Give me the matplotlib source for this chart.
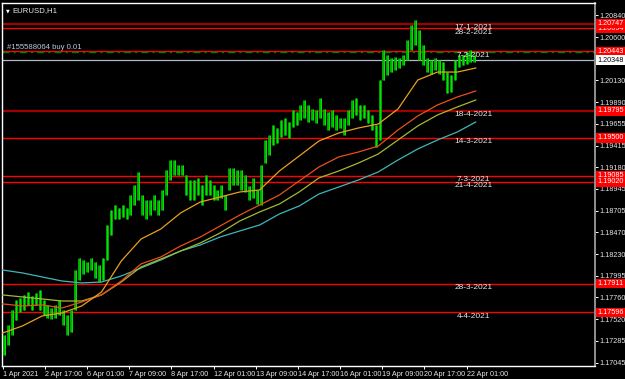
"""
plot.py
- EURUSD H1 chart, MT4 look: green bars, 4 moving averages, level lines
- saves out.png (625x379)
"""

import matplotlib
matplotlib.use("Agg")
import matplotlib.pyplot as plt
import numpy as np

# =========================
# 1. data
# =========================

# one bar per 3 hours, high / low
highs = [1.1735, 1.1746, 1.1762, 1.1773, 1.1775, 1.1779, 1.1782, 1.1777, 1.1781, 1.1784,
         1.1773, 1.1768, 1.1765, 1.1768, 1.1773, 1.1762, 1.1757, 1.1762, 1.1806, 1.1819,
         1.1817, 1.1815, 1.1819, 1.1815, 1.1811, 1.1819, 1.1855, 1.1871, 1.1877, 1.1873,
         1.1877, 1.1873, 1.1888, 1.1899, 1.1913, 1.1888, 1.1882, 1.1882, 1.1888, 1.1882,
         1.1893, 1.1915, 1.1926, 1.1926, 1.1920, 1.1920, 1.1910, 1.1904, 1.1904, 1.1906,
         1.1899, 1.1910, 1.1904, 1.1899, 1.1893, 1.1899, 1.1888, 1.1917, 1.1917, 1.1915,
         1.1915, 1.1910, 1.1897, 1.1906, 1.1893, 1.1920, 1.1948, 1.1953, 1.1964, 1.1961,
         1.1970, 1.1972, 1.1967, 1.1980, 1.1978, 1.1986, 1.1991, 1.1986, 1.1982, 1.1980,
         1.1993, 1.1982, 1.1978, 1.1980, 1.1975, 1.1972, 1.1972, 1.1980, 1.1991, 1.1993,
         1.1986, 1.1986, 1.1980, 1.1975, 1.1964, 1.2013, 1.2046, 1.2040, 1.2037, 1.2038,
         1.2037, 1.2040, 1.2057, 1.2073, 1.2079, 1.2068, 1.2051, 1.2037, 1.2035, 1.2037,
         1.2035, 1.2033, 1.2022, 1.2019, 1.2035, 1.2040, 1.2040, 1.2044, 1.2046, 1.2040]

lows = [1.1713, 1.1724, 1.1735, 1.1751, 1.1760, 1.1762, 1.1768, 1.1762, 1.1768, 1.1762,
        1.1757, 1.1754, 1.1752, 1.1754, 1.1757, 1.1746, 1.1735, 1.1738, 1.1762, 1.1795,
        1.1801, 1.1804, 1.1806, 1.1797, 1.1793, 1.1795, 1.1817, 1.1844, 1.1861, 1.1862,
        1.1864, 1.1861, 1.1866, 1.1877, 1.1882, 1.1866, 1.1861, 1.1866, 1.1871, 1.1866,
        1.1871, 1.1888, 1.1904, 1.1910, 1.1910, 1.1910, 1.1888, 1.1882, 1.1882, 1.1888,
        1.1877, 1.1888, 1.1888, 1.1882, 1.1882, 1.1884, 1.1871, 1.1893, 1.1899, 1.1899,
        1.1893, 1.1891, 1.1882, 1.1884, 1.1878, 1.1877, 1.1923, 1.1931, 1.1942, 1.1944,
        1.1951, 1.1953, 1.1950, 1.1962, 1.1964, 1.1970, 1.1972, 1.1967, 1.1970, 1.1966,
        1.1972, 1.1964, 1.1959, 1.1962, 1.1959, 1.1961, 1.1953, 1.1964, 1.1972, 1.1975,
        1.1970, 1.1972, 1.1966, 1.1959, 1.1940, 1.1948, 1.2013, 1.2019, 1.2022, 1.2024,
        1.2026, 1.2029, 1.2035, 1.2046, 1.2051, 1.2035, 1.2029, 1.2022, 1.2020, 1.2024,
        1.2020, 1.2013, 1.1999, 1.2000, 1.2013, 1.2027, 1.2029, 1.2031, 1.2033, 1.2033]

# moving averages, sampled at these H1 bar numbers
ma_bars = [0, 15, 30, 45, 60, 75, 90, 105, 120, 135, 150, 165, 180,
           195, 210, 225, 240, 255, 270, 285, 300, 315, 330, 345, 359]
ma_orange = [1.17372, 1.17449, 1.17558, 1.17590, 1.17667, 1.17819, 1.18157, 1.18397, 1.18506,
             1.18681, 1.18801, 1.18855, 1.18910, 1.18932, 1.19139, 1.19302, 1.19466, 1.19553,
             1.19608, 1.19651, 1.19815, 1.20131, 1.20218, 1.20218, 1.20262]
ma_red = [1.17689, 1.17667, 1.17678, 1.17645, 1.17710, 1.17787, 1.17939, 1.18125, 1.18201,
          1.18321, 1.18419, 1.18539, 1.18659, 1.18768, 1.18877, 1.19030, 1.19182, 1.19292,
          1.19346, 1.19411, 1.19586, 1.19739, 1.19859, 1.19946, 1.20011]
ma_yellow = [1.17787, 1.17765, 1.17743, 1.17721, 1.17721, 1.17787, 1.17928, 1.18092, 1.18179,
             1.18266, 1.18354, 1.18463, 1.18594, 1.18692, 1.18779, 1.18910, 1.19063, 1.19139,
             1.19226, 1.19324, 1.19477, 1.19630, 1.19750, 1.19837, 1.19913]
ma_cyan = [1.18059, 1.18027, 1.17983, 1.17939, 1.17918, 1.17928, 1.17994, 1.18081, 1.18168,
           1.18266, 1.18332, 1.18419, 1.18485, 1.18550, 1.18670, 1.18757, 1.18888, 1.18964,
           1.19041, 1.19128, 1.19259, 1.19379, 1.19477, 1.19564, 1.19673]

# horizontal levels
level_names = ["17-1-2021", "28-2-2021", "7-2-2021", "18-4-2021", "14-3-2021",
               "7-3-2021", "21-4-2021", "28-3-2021", "4-4-2021"]
level_prices = [1.20747, 1.20694, 1.20443, 1.19795, 1.19500,
                1.19085, 1.19020, 1.17911, 1.17596]
level_dark = [True, False, False, True, False, False, False, False, False]

bid_price = 1.20348
order_price = 1.20435
order_text = "#155588064 buy 0.01"

y_ticks = [1.20840, 1.20600, 1.20365, 1.20130, 1.19890, 1.19655, 1.19415, 1.19180,
           1.18945, 1.18705, 1.18470, 1.18230, 1.17995, 1.17760, 1.17520, 1.17285, 1.17045]
x_tick_bars = [0, 32, 64, 96, 128, 160, 192, 224, 256, 288, 320, 352]
x_tick_labels = ["1 Apr 2021", "2 Apr 17:00", "6 Apr 01:00", "7 Apr 09:00", "8 Apr 17:00",
                 "12 Apr 01:00", "13 Apr 09:00", "14 Apr 17:00", "16 Apr 01:00",
                 "19 Apr 09:00", "20 Apr 17:00", "22 Apr 01:00"]

# =========================
# 2. figure
# =========================

plt.rcParams["font.family"] = ["Liberation Sans Narrow", "Liberation Sans", "DejaVu Sans"]
FS = 5.2
TXT = "#e6e6e6"

fig = plt.figure(figsize=(6.25, 3.79), dpi=100, facecolor="black")
ax = fig.add_axes([2 / 625, 13 / 379, 593 / 625, 363 / 379], facecolor="black")

ax.set_xlim(-0.5, 449.5)
ax.set_ylim(1.17012, 1.20971)

# bars
bar_x = np.arange(len(highs)) * 3 + 1
ax.vlines(bar_x, lows, highs, color="#00b400", linewidth=2.0, zorder=3)
ax.vlines(bar_x + 0.5, lows, highs, color="#00f000", linewidth=0.6, zorder=3)

# moving averages
ax.plot(ma_bars, ma_cyan, color="#3fb7b7", linewidth=0.9, zorder=4)
ax.plot(ma_bars, ma_yellow, color="#a8b830", linewidth=0.9, zorder=4)
ax.plot(ma_bars, ma_red, color="#e8501a", linewidth=0.9, zorder=4)
ax.plot(ma_bars, ma_orange, color="#e8a020", linewidth=0.9, zorder=4)

# levels + labels
ytrans = ax.get_yaxis_transform()
for name, price, dark in zip(level_names, level_prices, level_dark):
    if dark:
        ax.axhline(price, color="#a00000", linewidth=1.6, zorder=2)
    else:
        ax.axhline(price, color="#ff0000", linewidth=1.0, zorder=2)
    ax.text(357.5, price - 0.00006, name, ha="center", va="top", fontsize=FS + 0.8,
            color=TXT, zorder=6)

# order line and bid line
ax.axhline(order_price, color="#008000", linewidth=1.0, linestyle=(0, (5, 3, 1.5, 3)), zorder=2)
ax.text(3, order_price + 0.0001, order_text, fontsize=FS + 0.4, color="#b8c8dc",
        va="bottom", zorder=6)
ax.axhline(bid_price, color="#b0b8c0", linewidth=0.9, zorder=2)

# title
ax.text(0.006, 0.985, "\u25bc", transform=ax.transAxes, fontsize=3.5, color="white",
        va="top", family="DejaVu Sans")
ax.text(0.018, 0.988, "EURUSD,H1", transform=ax.transAxes, fontsize=FS + 0.4, color=TXT,
        va="top")

# =========================
# 3. axes styling
# =========================

for side in ["top", "left", "bottom"]:
    ax.spines[side].set_color("white")
    ax.spines[side].set_linewidth(1.0)
ax.spines["right"].set_color("#909090")
ax.spines["right"].set_linewidth(1.4)

ax.yaxis.tick_right()
ax.set_yticks(y_ticks)
ax.set_yticklabels([f"{v:.5f}" for v in y_ticks])
ax.tick_params(axis="y", colors="white", labelsize=FS, length=2.0, width=0.7, pad=1.0,
               labelcolor=TXT)

ax.set_xticks(x_tick_bars)
ax.set_xticklabels(x_tick_labels, ha="left")
ax.tick_params(axis="x", colors="white", labelsize=FS, length=2.5, width=0.7, pad=1,
               labelcolor=TXT)

# price boxes on the right axis (drawn over tick labels)
box_prices = [1.20694, 1.20747, 1.20443, 1.19795, 1.19500, 1.19085, 1.19020, 1.17911, 1.17596]
for p in box_prices:
    ax.text(1.004, p, f"{p:.5f}", transform=ytrans, ha="left", va="center", fontsize=FS,
            color="white", clip_on=False, zorder=10,
            bbox=dict(facecolor="#ff0000", edgecolor="none", pad=0.9))
ax.text(1.004, bid_price, f"{bid_price:.5f}", transform=ytrans, ha="left", va="center",
        fontsize=FS, color="black", clip_on=False, zorder=10,
        bbox=dict(facecolor="white", edgecolor="none", pad=0.9))

fig.savefig("out.png", dpi=100, facecolor="black")
